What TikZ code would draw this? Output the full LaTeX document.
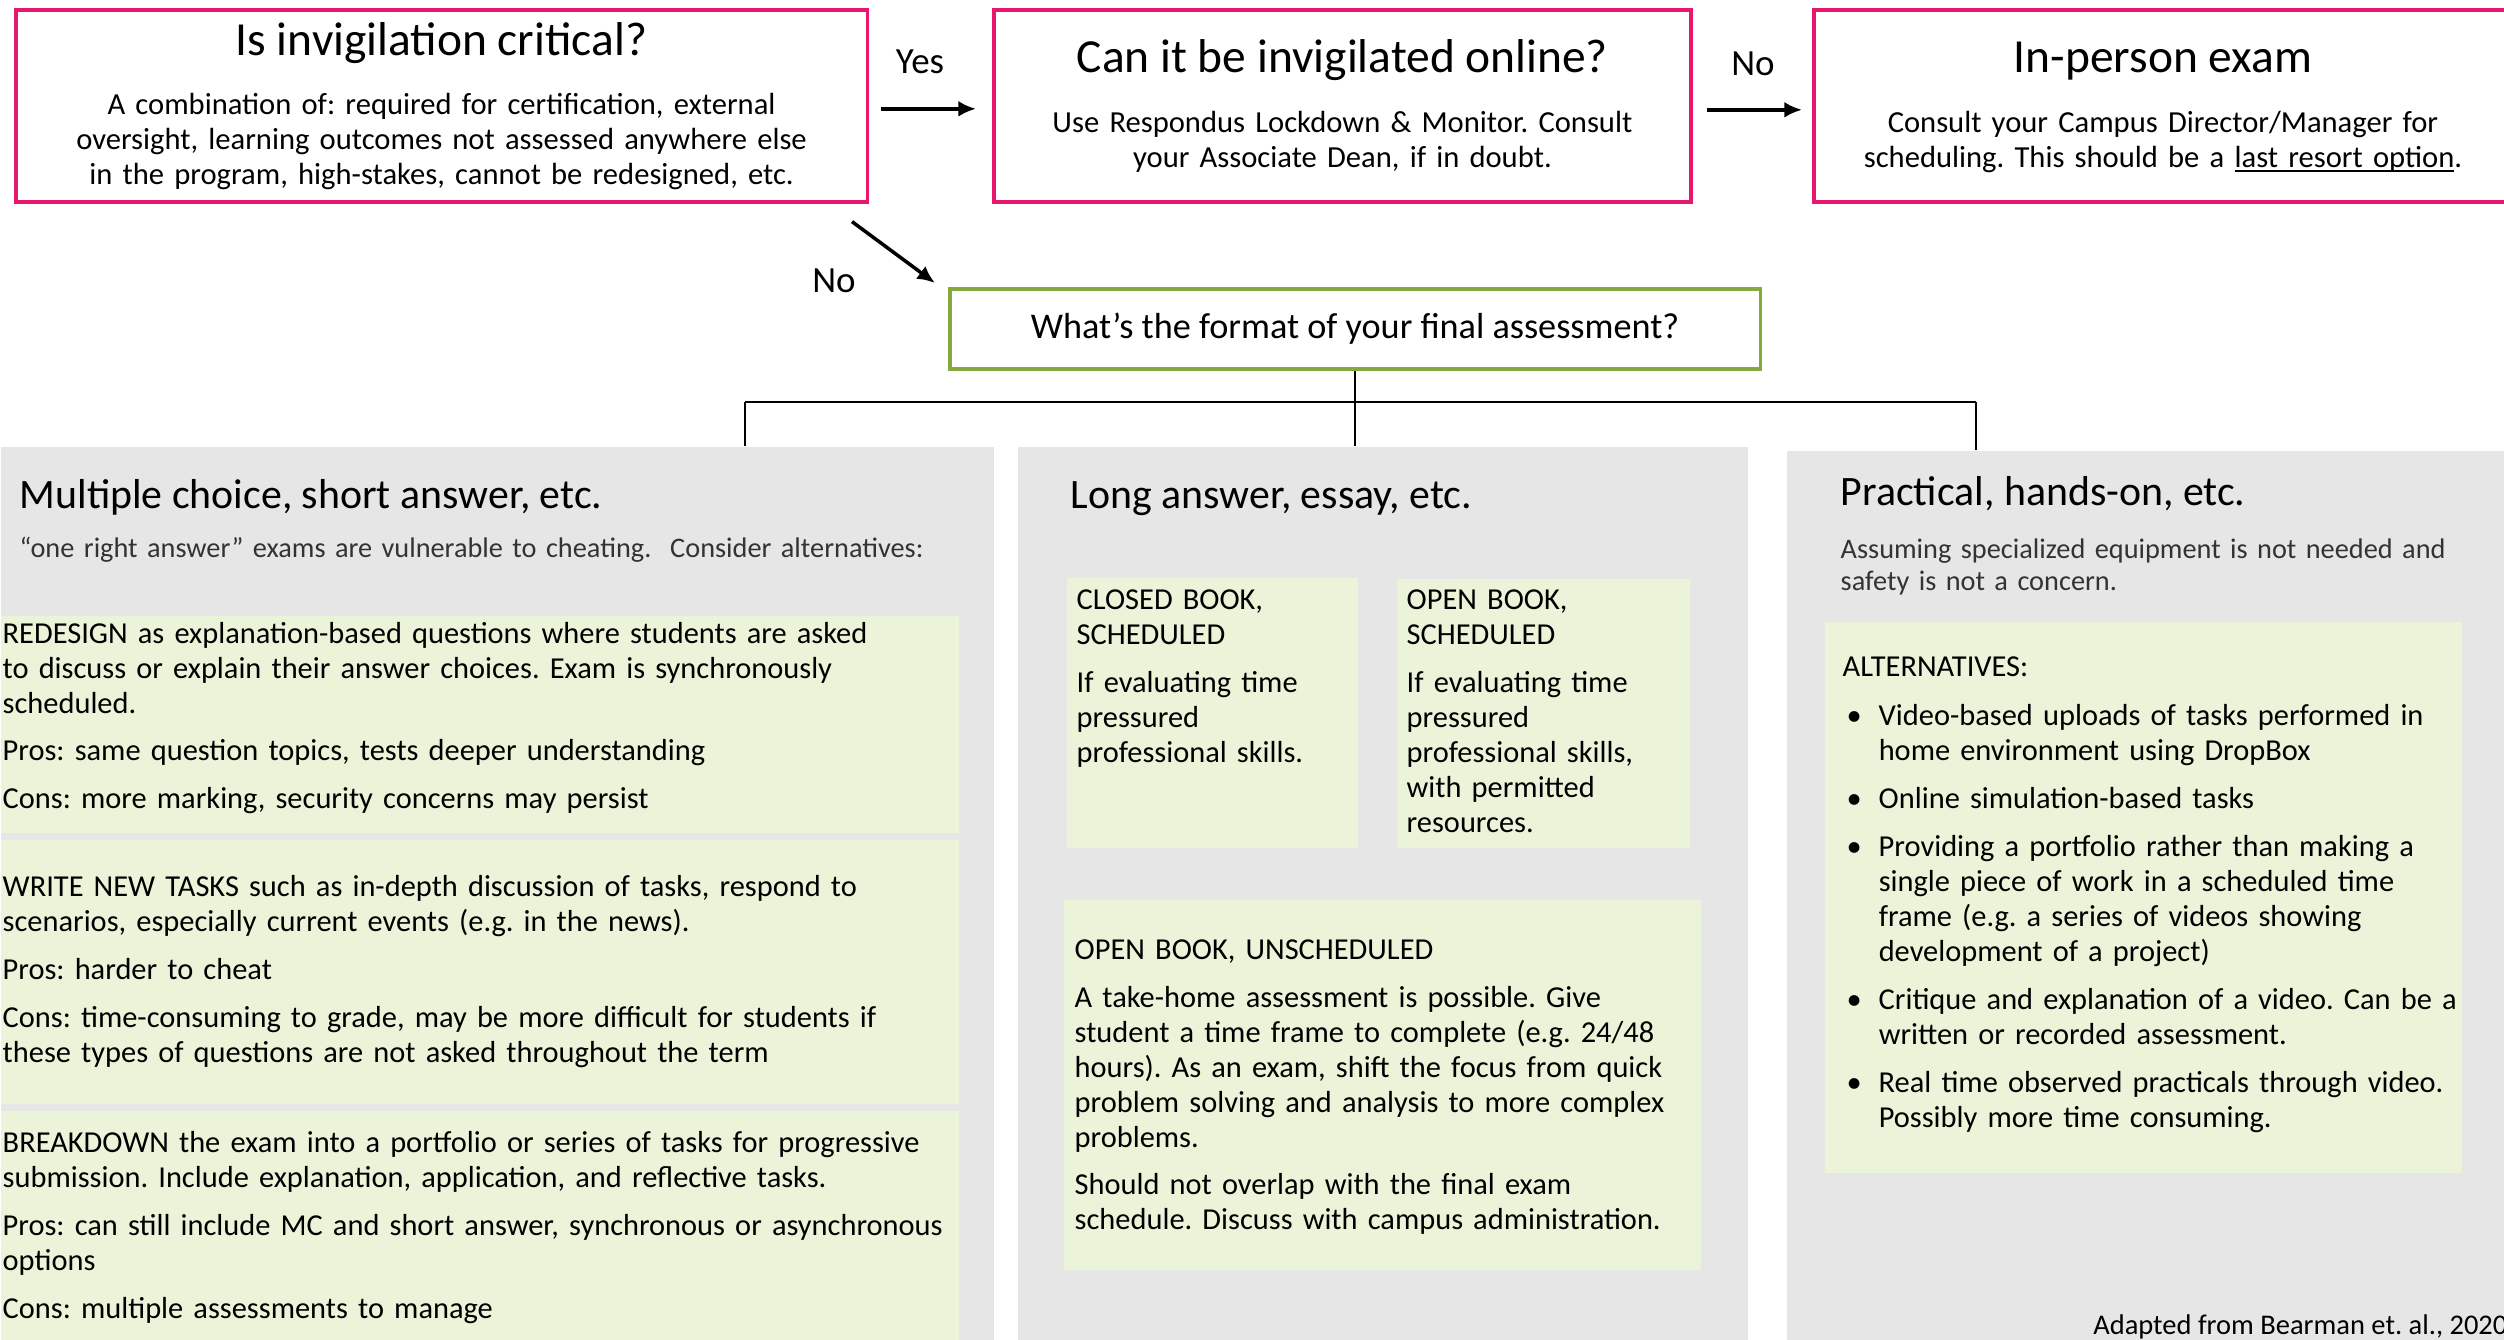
\documentclass[tikz,border=0pt]{standalone}
\usepackage{fontspec}
\setmainfont{Carlito}
\usetikzlibrary{calc,positioning,arrows.meta}

\definecolor{critpink}{HTML}{E8176E}
\definecolor{fmtgreen}{HTML}{86A83C}
\definecolor{colgray}{HTML}{E6E6E6}
\definecolor{altgreen}{HTML}{EBF3D9}
\definecolor{subgray}{HTML}{333333}

\newcommand{\bul}{\makebox[0.36cm][l]{\hspace{0.04cm}\textbullet}}
\newcommand{\altind}{\hspace*{0.36cm}}
\newcommand{\underbase}[1]{\setbox0=\hbox{#1}\rlap{\rule[-1.3pt]{\wd0}{0.45pt}}\box0}
\hyphenpenalty=10000
\exhyphenpenalty=10000

\begin{document}
\frenchspacing
\begin{tikzpicture}[x=0.01cm, y=-0.01cm,
  critbox/.style={draw=critpink, line width=1pt, inner sep=0pt, anchor=north west},
  fmtbox/.style={draw=fmtgreen, line width=1pt, inner sep=0pt, anchor=north west,
    font=\fontsize{10.3}{12}\selectfont},
  colbox/.style={fill=colgray, inner sep=0pt, anchor=north west},
  altbox/.style={fill=altgreen, inner sep=0pt, anchor=north west},
  qtitle/.style={font=\fontsize{13.5}{16}\selectfont, anchor=base, inner sep=0pt},
  qtext/.style={font=\fontsize{8.7}{9.96}\selectfont, anchor=base, align=center,
    text width=8.4cm, inner sep=0pt},
  lbl/.style={font=\fontsize{10.5}{12}\selectfont, anchor=base, inner sep=0pt},
  coltitle/.style={font=\fontsize{11.9}{14}\selectfont, anchor=base west, inner sep=0pt},
  colsub/.style={font=\fontsize{8.05}{9.1}\selectfont, text=subgray, anchor=base west,
    align=left, text width=6.6cm, inner sep=0pt},
  alttxt/.style={font=\fontsize{8.65}{9.96}\selectfont, anchor=base west, align=left,
    inner sep=0pt},
  arr/.style={-{Latex[length=5pt,width=4.5pt]}, line width=1pt},
  tree/.style={line width=0.6pt}]
\useasboundingbox (0,0) rectangle (2504,1339);

% decision row
\node[critbox, minimum width=8.51cm, minimum height=1.92cm] (crit) at (14,8) {};
\node[critbox, minimum width=6.97cm, minimum height=1.92cm] (online) at (992,8) {};
\node[critbox, minimum width=6.98cm, minimum height=1.92cm] (inperson) at (1812,8) {};

\node[qtitle] (critt) at ($(crit.north)+(0,47)$) {Is invigilation critical?};
\node[qtext] (critb) at ($(crit.north)+(0,106)$) {A combination of: required for certification, external\\oversight, learning outcomes not assessed anywhere else\\in the program, high-stakes, cannot be redesigned, etc.};
\node[qtitle] (onlinet) at ($(online.north)+(0,64)$) {Can it be invigilated online?};
\node[qtext] (onlineb) at ($(online.north)+(0,124)$) {Use Respondus Lockdown \& Monitor. Consult\\your Associate Dean, if in doubt.};
\node[qtitle] (inpersont) at ($(inperson.north)+(0,64)$) {In-person exam};
\node[qtext] (inpersonb) at ($(inperson.north)+(0,124)$) {Consult your Campus Director/Manager for\\scheduling. This should be a \underbase{last resort option}.};

\node[lbl] (yes) at (920,73) {Yes};
\node[lbl] (no1) at (1753,75) {No};
\node[lbl] (no2) at (834,292) {No};

\node[fmtbox, minimum width=8.10cm, minimum height=0.80cm] (fmt) at (948,287) {What’s the format of your final assessment?};

\draw[arr] ($(crit.east)+(12,3)$) -- ($(online.west)+(-16,3)$);
\draw[arr] ($(online.east)+(14,4)$) -- ($(inperson.west)+(-10,4)$);
\draw[arr] ($(crit.south east)+(-17,18)$) -- ($(fmt.north west)+(-13,-4)$);

% the three formats
\node[colbox, minimum width=9.93cm, minimum height=9.0cm] (col1) at (0,446) {};
\node[colbox, minimum width=7.30cm, minimum height=9.0cm] (col2) at (1017,446) {};
\node[colbox, minimum width=7.30cm, minimum height=9.0cm] (col3) at (1786,450) {};

\coordinate (j1) at (745,402);
\coordinate (j3) at (1976,402);
\draw[tree] (fmt.south) -- (fmt.south |- col2.north);
\draw[tree] (j1) -- (j3);
\draw[tree] (j1) -- (j1 |- col1.north);
\draw[tree] (j3) -- (j3 |- col3.north);

% multiple choice
\node[coltitle] (col1t) at (19,508) {Multiple choice, short answer, etc.};
\node[colsub, text width=9.6cm] (col1s) at (19,557) {“one right answer” exams are vulnerable to cheating.\ \ Consider alternatives:};

\node[altbox, minimum width=9.58cm, minimum height=2.17cm] (redesign) at (0,615) {};
\node[alttxt, text width=9.8cm] (redesignt) at (2,643) {REDESIGN as explanation-based questions where students are asked\\to discuss or explain their answer choices. Exam is synchronously\\scheduled.\\[0.12cm]Pros: same question topics, tests deeper understanding\\[0.13cm]Cons: more marking, security concerns may persist};

\node[altbox, minimum width=9.58cm, minimum height=2.64cm] (newtasks) at (0,839) {};
\node[alttxt, text width=9.8cm] (newtaskst) at (2,896) {WRITE NEW TASKS such as in-depth discussion of tasks, respond to\\scenarios, especially current events (e.g. in the news).\\[0.13cm]Pros: harder to cheat\\[0.13cm]Cons: time-consuming to grade, may be more difficult for students if\\these types of questions are not asked throughout the term};

\node[altbox, minimum width=9.58cm, minimum height=2.40cm] (breakdown) at (0,1110) {};
\node[alttxt, text width=9.8cm] (breakdownt) at (2,1152) {BREAKDOWN the exam into a portfolio or series of tasks for progressive\\submission. Include explanation, application, and reflective tasks.\\[0.13cm]Pros: can still include MC and short answer, synchronous or asynchronous\\options\\[0.13cm]Cons: multiple assessments to manage};

% long answer
\node[coltitle] (col2t) at (1070,508) {Long answer, essay, etc.};

\node[altbox, minimum width=2.91cm, minimum height=2.70cm] (closed) at (1066,577) {};
\node[alttxt, text width=2.8cm] (closedt) at (1076,609) {CLOSED BOOK,\\SCHEDULED\\[0.13cm]If evaluating time\\pressured\\professional skills.};

\node[altbox, minimum width=2.93cm, minimum height=2.69cm] (open) at (1396,578) {};
\node[alttxt, text width=2.8cm] (opent) at (1406,609) {OPEN BOOK,\\SCHEDULED\\[0.13cm]If evaluating time\\pressured\\professional skills,\\with permitted\\resources.};

\node[altbox, minimum width=6.37cm, minimum height=3.70cm] (unsched) at (1063,899) {};
\node[alttxt, text width=6.5cm] (unschedt) at (1074,959) {OPEN BOOK, UNSCHEDULED\\[0.13cm]A take-home assessment is possible. Give\\student a time frame to complete (e.g. 24/48\\hours). As an exam, shift the focus from quick\\problem solving and analysis to more complex\\problems.\\[0.12cm]Should not overlap with the final exam\\schedule. Discuss with campus administration.};

% practical
\node[coltitle] (col3t) at (1840,505) {Practical, hands-on, etc.};
\node[colsub] (col3s) at (1840,558) {Assuming specialized equipment is not needed and\\safety is not a concern.};

\node[altbox, minimum width=6.37cm, minimum height=5.51cm] (alts) at (1824,621) {};
\node[alttxt, text width=6.5cm] (altst) at (1842,676) {ALTERNATIVES:\\[0.14cm]
\bul Video-based uploads of tasks performed in\\\altind home environment using DropBox\\[0.13cm]
\bul Online simulation-based tasks\\[0.13cm]
\bul Providing a portfolio rather than making a\\\altind single piece of work in a scheduled time\\\altind frame (e.g. a series of videos showing\\\altind development of a project)\\[0.13cm]
\bul Critique and explanation of a video. Can be a\\\altind written or recorded assessment.\\[0.13cm]
\bul Real time observed practicals through video.\\\altind Possibly more time consuming.};

\node[alttxt, font=\fontsize{8.1}{9.96}\selectfont, anchor=base east] (source) at (2508,1334) {Adapted from Bearman et. al., 2020};
\end{tikzpicture}
\end{document}
